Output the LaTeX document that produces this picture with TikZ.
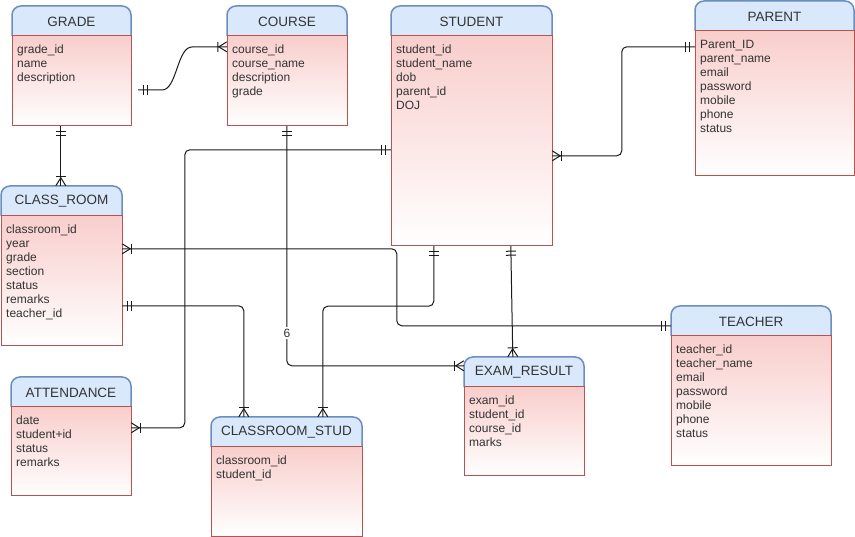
\documentclass[tikz,border=0pt]{standalone}
\usepackage{fontspec}
\setmainfont{Liberation Sans}
\usetikzlibrary{calc,fit,decorations.markings}
\definecolor{headfill}{HTML}{DAE8FC}
\definecolor{headline}{HTML}{6C8EBF}
\definecolor{bodytop}{HTML}{F8CECC}
\definecolor{bodyline}{HTML}{B85450}
\definecolor{txt}{HTML}{333333}
\definecolor{conn}{HTML}{1A1A1A}
\tikzset{
  headstyle/.style={draw=headline, line width=1.5pt, fill=headfill, rounded corners=9pt},
  bodystyle/.style={draw=bodyline, line width=1pt},
  titletext/.style={font=\fontsize{13.5}{16}\selectfont, text=txt, inner sep=0pt},
  rowtext/.style={anchor=north west, align=left, font=\fontsize{12}{14}\selectfont, text=txt, inner sep=0pt},
  connector/.style={draw=conn, line width=1pt, rounded corners=5pt},
  tipline/.style={draw=conn, line width=1pt, sharp corners},
  oneone/.style={postaction={decorate, decoration={markings,
      mark=at position 5pt with {\draw[tipline] (0pt,-5pt)--(0pt,5pt);},
      mark=at position 9pt with {\draw[tipline] (0pt,-5pt)--(0pt,5pt);}}}},
  crowend/.style={postaction={decorate, decoration={markings,
      mark=at position 1 with {\draw[tipline] (-9pt,-5pt)--(-9pt,5pt);
        \draw[tipline] (0pt,5pt)--(-8pt,0pt)--(0pt,-5pt);}}}},
  lbl/.style={fill=white, inner sep=1.5pt, font=\fontsize{12}{14}\selectfont, text=txt}
}
\newcommand\ertab[8]{%
  \draw[headstyle] (#2,#5) -- (#2,#3) -- (#4,#3) -- (#4,#5);
  \shade[top color=bodytop, bottom color=white] (#2,#5) rectangle (#4,#6);
  \draw[bodystyle] (#2,#5) rectangle (#4,#6);
  \node[fit={(#2,#3) (#4,#6)}, inner sep=0pt] (#1) {};
  \node[titletext] (#1-title) at ({(#2+#4)/2},{(#3+#5)/2+0.5}) {#7};
  \node[rowtext] (#1-rows) at ({#2+5},{#5+9}) {#8};
}
\begin{document}
\begin{tikzpicture}[x=1pt,y=-1pt]
\useasboundingbox (0,0) rectangle (855,537);
\fill[white] (0,0) rectangle (855,537);

\ertab{grade}{12}{6}{131}{36}{126}{GRADE}{grade\_id\\name\\description}
\ertab{course}{227}{6}{347}{36}{126}{COURSE}{course\_id\\course\_name\\description\\grade}
\ertab{student}{391}{6}{552}{36}{246}{STUDENT}{student\_id\\student\_name\\dob\\parent\_id\\DOJ}
\ertab{parent}{695}{1}{854}{31}{176}{PARENT}{Parent\_ID\\parent\_name\\email\\password\\mobile\\phone\\status}
\ertab{classroom}{1}{186}{122}{216}{346}{CLASS\_ROOM}{classroom\_id\\year\\grade\\section\\status\\remarks\\teacher\_id}
\ertab{attend}{11}{377}{131}{407}{496}{ATTENDANCE}{date\\student+id\\status\\remarks}
\ertab{classstud}{211}{417}{362}{447}{536}{CLASSROOM\_STUD}{classroom\_id\\student\_id}
\ertab{exam}{464}{357}{584}{387}{476}{EXAM\_RESULT}{exam\_id\\student\_id\\course\_id\\marks}
\ertab{teacher}{671}{306}{831}{336}{466}{TEACHER}{teacher\_id\\teacher\_name\\email\\password\\mobile\\phone\\status}

% GRADE - COURSE
\coordinate (gstart) at (138,90);
\draw[connector, oneone, crowend] (gstart) -- ++(19,0) .. controls ++(20,0) and ++(-20,0) .. ++(40,-43) -- ($(course.north west)+(0,41)$);
% GRADE - CLASS_ROOM
\draw[connector, oneone, crowend] ($(grade.south west)+(49,0)$) -- ($(classroom.north west)+(60,0)$);
% COURSE - EXAM_RESULT
\draw[connector, oneone, crowend] ($(course.south west)+(60,0)$) |- ($(exam.north west)+(0,9)$);
\node[lbl] (lbl6) at (287,333) {6};
% STUDENT - ATTENDANCE
\draw[connector, oneone, crowend] ($(student.north west)+(0,144)$) -- ++(-206,0) |- ($(attend.north east)+(0,51)$);
% PARENT - STUDENT
\draw[connector, oneone, crowend] ($(parent.north west)+(0,46)$) -- ++(-73,0) |- ($(student.north east)+(0,150)$);
% STUDENT - CLASSROOM_STUD
\draw[connector, oneone, crowend] ($(student.south west)+(43,0)$) -- ++(0,60) -| ($(classstud.north west)+(112,0)$);
% STUDENT - EXAM_RESULT
\draw[connector, oneone, crowend] ($(student.south west)+(120,0)$) -- ($(exam.north west)+(49,0)$);
% TEACHER - CLASS_ROOM
\draw[connector, oneone, crowend] ($(teacher.north west)+(0,20)$) -- ++(-274,0) |- ($(classroom.north east)+(0,63)$);
% CLASS_ROOM - CLASSROOM_STUD
\draw[connector, oneone, crowend] ($(classroom.north east)+(0,120)$) -| ($(classstud.north west)+(33,0)$);
\end{tikzpicture}
\end{document}
